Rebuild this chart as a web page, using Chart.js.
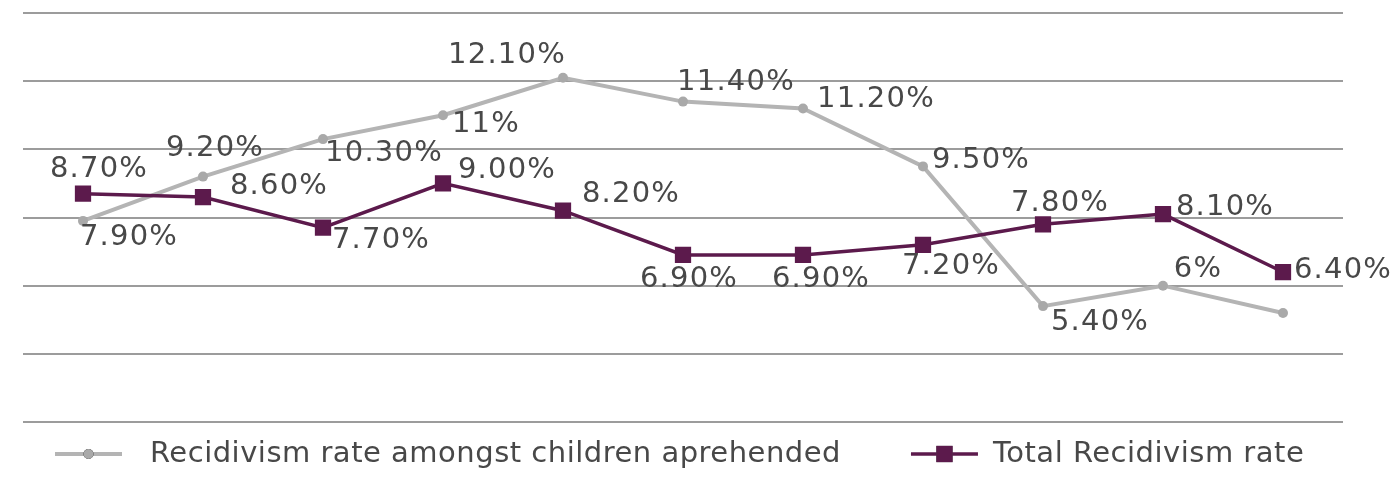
<!DOCTYPE html>
<html>
<head>
<meta charset="utf-8">
<script src="https://cdn.jsdelivr.net/npm/chart.js@4.4.1/dist/chart.umd.min.js"></script>
<style>
  html, body { margin: 0; padding: 0; background: #ffffff; }
  #wrap { width: 1394px; height: 488px; }
</style>
</head>
<body>
<div id="wrap"><canvas id="chart" width="1394" height="488"></canvas></div>
<script>
// Eleven periods, no axis labels shown
const periods = ['P1', 'P2', 'P3', 'P4', 'P5', 'P6', 'P7', 'P8', 'P9', 'P10', 'P11'];

// Recidivism rate amongst children aprehended (%)
const childrenRate = [7.9, 9.2, 10.3, 11, 12.1, 11.4, 11.2, 9.5, 5.4, 6, 5.2];
// Total recidivism rate (%)
const totalRate = [8.7, 8.6, 7.7, 9.0, 8.2, 6.9, 6.9, 7.2, 7.8, 8.1, 6.4];

// Which value labels are printed (last children point carries none)
const childrenLabelShown = [true, true, true, true, true, true, true, true, true, true, false];
const totalLabelShown = [true, true, true, true, true, true, true, true, true, true, true];

// Value-axis range and gridline step
const yMin = 2, yMax = 14, yStep = 2;

// Label placement relative to each point (dx, dy of the text centre)
const childrenLabelOffsets = [[45, 17], [11, -28], [60, 14], [42, 9], [-57, -22], [52, -19], [72, -9], [57, -6], [56, 16], [34, -16], [0, 0]];
const totalLabelOffsets = [[15, -24], [75, -11], [57, 13], [63, -13], [67, -16], [5, 24], [17, 24], [27, 22], [16, -21], [61, -7], [59, -2]];

const FONT = '"DejaVu Sans", sans-serif';
const GRAY = '#b4b4b4';
const PURPLE = '#5c1a4c';
const TEXT = '#484848';

const fmtChildren = v => (Number.isInteger(v) ? v : v.toFixed(2)) + '%';
const fmtTotal = v => v.toFixed(2) + '%';

// Value labels next to each point
const valueLabels = {
  id: 'valueLabels',
  afterDatasetsDraw(chart) {
    const ctx = chart.ctx;
    ctx.save();
    ctx.font = '29px ' + FONT;
    ctx.letterSpacing = '1.2px';
    ctx.fillStyle = TEXT;
    ctx.textAlign = 'center';
    ctx.textBaseline = 'middle';
    chart.data.datasets.forEach((ds, i) => {
      const meta = chart.getDatasetMeta(i);
      meta.data.forEach((pt, j) => {
        if (!ds.labelShown[j]) return;
        const off = ds.labelOffsets[j];
        ctx.fillText(ds.labelFormat(ds.data[j]), pt.x + off[0] + 1, pt.y + off[1]);
      });
    });
    ctx.restore();
  }
};

// Legend row: line sample with marker, then the series name
const lineLegend = {
  id: 'lineLegend',
  afterDraw(chart) {
    const ctx = chart.ctx;
    const y = 454;
    const sampleLen = 67;
    const gaps = [28, 15];
    let x = 55;
    ctx.save();
    ctx.font = '29px ' + FONT;
    ctx.letterSpacing = '0.5px';
    ctx.textBaseline = 'middle';
    chart.data.datasets.forEach((ds, i) => {
      ctx.strokeStyle = ds.borderColor;
      ctx.lineWidth = ds.borderWidth;
      ctx.beginPath();
      ctx.moveTo(x, y);
      ctx.lineTo(x + sampleLen, y);
      ctx.stroke();
      Chart.helpers.drawPoint(ctx, {
        pointStyle: ds.pointStyle,
        radius: ds.pointRadius,
        borderWidth: 0
      }, x + sampleLen / 2, y);
      ctx.fillStyle = ds.pointBackgroundColor;
      ctx.fill();
      const tx = x + sampleLen + gaps[i];
      ctx.fillStyle = TEXT;
      ctx.fillText(ds.label, tx, y);
      x = tx + ctx.measureText(ds.label).width + 70;
    });
    ctx.restore();
  }
};

new Chart(document.getElementById('chart'), {
  type: 'line',
  data: {
    labels: periods,
    datasets: [
      {
        label: 'Recidivism rate amongst children aprehended',
        data: childrenRate,
        borderColor: GRAY,
        backgroundColor: GRAY,
        pointBackgroundColor: '#a9a9a9',
        pointBorderWidth: 0,
        borderWidth: 4,
        pointStyle: 'circle',
        pointRadius: 5,
        tension: 0,
        order: 2,
        labelShown: childrenLabelShown,
        labelOffsets: childrenLabelOffsets,
        labelFormat: fmtChildren
      },
      {
        label: 'Total Recidivism rate',
        data: totalRate,
        borderColor: PURPLE,
        backgroundColor: PURPLE,
        pointBackgroundColor: PURPLE,
        pointBorderWidth: 0,
        borderWidth: 3.5,
        pointStyle: 'rect',
        pointRadius: 11.5,
        tension: 0,
        order: 1,
        labelShown: totalLabelShown,
        labelOffsets: totalLabelOffsets,
        labelFormat: fmtTotal
      }
    ]
  },
  options: {
    responsive: false,
    animation: false,
    devicePixelRatio: 1,
    layout: { padding: { left: 23, right: 51, top: 13, bottom: 66 } },
    plugins: {
      legend: { display: false },
      tooltip: { enabled: false }
    },
    scales: {
      x: {
        type: 'category',
        offset: true,
        display: false
      },
      y: {
        min: yMin,
        max: yMax,
        ticks: { display: false, stepSize: yStep },
        grid: { color: '#9c9c9c', lineWidth: 2, drawTicks: false },
        border: { display: false }
      }
    }
  },
  plugins: [valueLabels, lineLegend]
});
</script>
</body>
</html>
